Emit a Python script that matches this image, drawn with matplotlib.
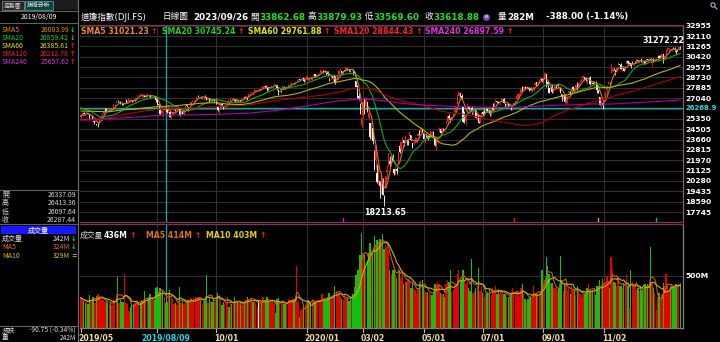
import matplotlib.pyplot as plt
from matplotlib.patches import Rectangle
import numpy as np
import pandas as pd

W, H = 720, 342
plt.rcParams['font.family'] = ['DejaVu Sans', 'Noto Sans CJK TC']
NARROW = ['Liberation Sans Narrow', 'Noto Sans CJK TC', 'DejaVu Sans']

# ---------------- daily bars, DJI 2019/05/15 .. 2021/01/21 ----------------
# closes just before the first bar, only used to warm up SMA5 / SMA20
pre_close = [26450, 26559, 26511, 26656, 26597, 26462, 26543, 26554, 26593, 26430,
             26308, 26505, 26438, 25965, 25968, 25828, 25942, 25324, 25532]

op = [
    # 2019/05
    25480, 25664, 25784, 25679, 25740, 25841, 25644, 25562, 25600, 25214, 25156, 24910,
    # 2019/06
    24823, 24960, 25438, 25523, 25757, 26097, 26150, 26019, 26048, 26060, 26111, 26214, 26471, 26650, 26757, 26720, 26745, 26597, 26578, 26573,
    # 2019/07
    26919, 26731, 26845, 26835, 26875, 26720, 26900, 26919, 27114, 27357, 27328, 27311, 27173, 27276, 27172, 27206, 27304, 27257, 27179, 27196, 27126, 27218,
    # 2019/08
    26885, 26527, 26098, 25900, 25844, 26080, 26337, 26178, 25881, 25930, 25556, 25700, 26110, 26059, 26087, 26237, 26186, 25766, 26014, 25724, 26184, 26445,
    # 2019/09
    26279, 26240, 26531, 26752, 26802, 26792, 26949, 27214, 27221, 27146, 27071, 27103, 27140, 27111, 26885, 27036, 26786, 26980, 26935, 26852,
    # 2019/10
    26963, 26425, 26039, 26269, 26523, 26370, 26289, 26294, 26630, 26775, 26836, 26983, 27070, 26968, 26826, 26888, 26765, 26861, 26807, 27014, 27089, 27077, 27159,
    # 2019/11
    27130, 27425, 27485, 27465, 27547, 27628, 27631, 27682, 27640, 27765, 27843, 27978, 28060, 27862, 27814, 27818, 27926, 28091, 28146, 28124,
    # 2019/12
    28109, 27671, 27575, 27708, 27823, 27985, 27900, 27867, 27923, 28123, 28191, 28240, 28279, 28252, 28451, 28491, 28572, 28539, 28676, 28654, 28414,
    # 2020/01
    28639, 28553, 28465, 28639, 28556, 28852, 28986, 28831, 28885, 28940, 29131, 29313, 29284, 29263, 29160, 29193, 28554, 28663, 28820, 28564, 28813,
    # 2020/02
    28320, 28555, 29004, 29309, 29287, 29075, 29331, 29375, 29440, 29420, 29279, 29339, 29306, 29155, 28402, 28026, 27184, 26526, 24862,
    # 2020/03
    25590, 26762, 26384, 26700, 25458, 24992, 24454, 24604, 22184, 21974, 20918, 20477, 20251, 19734, 20253, 19028, 19722, 21050, 21469, 21899, 21679, 22208,
    # 2020/04
    21228, 20819, 21285, 21694, 23137, 22866, 23572, 23584, 23703, 23633, 23570, 23946, 24009, 23341, 23338, 23459, 23532, 23943, 24337, 24282, 24494,
    # 2020/05
    24120, 23536, 23956, 23980, 23987, 24067, 24187, 24299, 23710, 23049, 23433, 24249, 24562, 24399, 24555, 24385, 24974, 25105, 25604, 25393,
    # 2020/06
    25343, 25587, 25902, 26246, 26554, 27233, 27447, 27251, 26283, 25659, 25178, 26265, 26371, 25975, 26252, 25865, 26140, 26062, 25433, 25624, 25080, 25508,
    # 2020/07
    25879, 25986, 26025, 26165, 25962, 26086, 25655, 26198, 25934, 26861, 26788, 26765, 26639, 26801, 26818, 27001, 26568, 26499, 26570, 26416, 26327, 26343,
    # 2020/08
    26473, 26588, 26964, 27160, 27364, 27473, 27944, 27790, 27928, 27826, 27947, 27857, 27785, 27582, 27735, 28087, 28330, 28258, 28383, 28540, 28644,
    # 2020/09
    28440, 28672, 29037, 28343, 27846, 27678, 28058, 27633, 27887, 28062, 28094, 27750, 27861, 27400, 27214, 27297, 26660, 26835, 27449, 27578, 27512,
    # 2020/10
    27941, 27536, 27766, 28175, 27952, 28398, 28472, 28655, 28792, 28720, 28220, 28593, 28692, 28298, 28301, 28186, 28376, 28165, 27735, 27155, 26490, 26634,
    # 2020/11
    26691, 27084, 27665, 28155, 28325, 29102, 29224, 29450, 29355, 29194, 29715, 29832, 29774, 29312, 29468, 29356, 29812, 30067, 29943, 29896,
    # 2020/12
    29875, 29815, 29989, 29984, 30138, 30000, 30176, 29896, 29907, 30088, 30000, 30220, 30270, 30276, 29926, 30255, 30065, 30155, 30283, 30492, 30415, 30417,
    # 2021/01
    30627, 30204, 30384, 30909, 31069, 30998, 31041, 31081, 31068, 30926, 30945, 31026, 31210,
]

hi = [
    25693, 25939, 25918, 25739, 25914, 25861, 25644, 25694, 25650, 25240, 25286, 24965,
    25019, 25348, 25558, 25741, 26058, 26204, 26250, 26055, 26146, 26133, 26200, 26572, 26560, 26907, 26851, 26778, 26769, 26667, 26614, 26635,
    26956, 26793, 26966, 26960, 26880, 26800, 26980, 27089, 27333, 27398, 27359, 27335, 27224, 27281, 27198, 27351, 27319, 27275, 27237, 27222, 27226, 27247,
    27142, 26558, 26115, 26058, 26048, 26379, 26413, 26223, 26487, 25988, 25665, 25952, 26227, 26119, 26218, 26312, 26209, 25904, 26029, 26040, 26377, 26491,
    26279, 26398, 26741, 26800, 26911, 26909, 27137, 27306, 27248, 27148, 27112, 27150, 27272, 27140, 27000, 27080, 27006, 26993, 27006, 26998,
    27047, 26425, 26211, 26590, 26611, 26372, 26377, 26574, 26958, 26833, 27074, 27057, 27093, 26991, 26868, 26902, 26834, 26881, 26995, 27130, 27150, 27208, 27167,
    27348, 27517, 27575, 27514, 27775, 27682, 27694, 27799, 27804, 27804, 28005, 28058, 28090, 27908, 27849, 27900, 28068, 28124, 28174, 28133,
    28109, 27671, 27707, 27708, 28044, 28021, 27949, 27924, 28224, 28290, 28337, 28290, 28298, 28377, 28582, 28582, 28576, 28622, 28702, 28664, 28547,
    28873, 28716, 28708, 28686, 28866, 28956, 29009, 28907, 29007, 29126, 29298, 29373, 29330, 29374, 29177, 29242, 28648, 28791, 28893, 28860, 28813,
    28569, 28866, 29308, 29380, 29287, 29277, 29415, 29568, 29527, 29441, 29337, 29410, 29408, 29155, 28402, 28117, 27444, 26675, 25409,
    26707, 27084, 27102, 26700, 25994, 24992, 25020, 24604, 22837, 23190, 21689, 21592, 20254, 20811, 20532, 19121, 20710, 21565, 22596, 22328, 22378, 22489,
    21286, 21451, 21447, 22680, 23328, 23434, 23848, 23633, 24030, 23633, 23626, 24264, 24009, 23346, 23579, 23887, 23789, 24185, 24445, 24722, 24524,
    24120, 23784, 24148, 24001, 24007, 24338, 24363, 24342, 23873, 23625, 23705, 24658, 24579, 24621, 24619, 24465, 25152, 25548, 25758, 25436,
    25516, 25742, 26270, 26374, 27339, 27580, 27447, 27354, 26283, 26019, 25828, 26610, 26421, 26150, 26398, 26069, 26293, 26062, 25759, 25624, 25600, 25901,
    26009, 26204, 26315, 26215, 26074, 26093, 26078, 26611, 26647, 26970, 26813, 26782, 26764, 27027, 27006, 27066, 26632, 26604, 26619, 26611, 26385, 26431,
    26692, 26835, 27214, 27394, 27434, 27807, 28030, 28015, 27992, 27948, 27965, 27886, 27911, 27754, 27957, 28364, 28330, 28344, 28565, 28660, 28650,
    28659, 29200, 29037, 28478, 27874, 28041, 28193, 27818, 28106, 28121, 28287, 27978, 27892, 27400, 27337, 27374, 27016, 27210, 27609, 27610, 27962,
    27999, 27831, 28163, 28354, 28353, 28470, 28607, 28958, 28800, 28804, 28528, 28832, 28808, 28543, 28438, 28408, 28408, 28167, 27735, 27155, 26978, 26685,
    27114, 27602, 28075, 28465, 28383, 29934, 29581, 29510, 29355, 29489, 29965, 29862, 29881, 29507, 29521, 29632, 30117, 30068, 30000, 29905,
    30081, 29900, 30099, 30219, 30173, 30192, 30319, 30012, 30061, 30195, 30203, 30252, 30328, 30293, 30222, 30278, 30248, 30209, 30526, 30588, 30525, 30638,
    30674, 30505, 31023, 31194, 31140, 31040, 31148, 31181, 31223, 30946, 31066, 31263, 31272,
]

lo = [
    25402, 25664, 25706, 25580, 25740, 25723, 25328, 25551, 25339, 24938, 25104, 24811,
    24680, 24960, 25374, 25433, 25720, 26015, 25998, 25951, 26048, 25990, 26098, 26159, 26388, 26650, 26710, 26679, 26525, 26502, 26503, 26545,
    26654, 26669, 26845, 26715, 26765, 26705, 26818, 26919, 27099, 27298, 27278, 27218, 27084, 27150, 27100, 27159, 27210, 27090, 27131, 27125, 27080, 26730,
    26512, 26250, 25718, 25703, 25480, 26035, 26098, 25844, 25827, 25473, 25339, 25700, 26110, 25951, 26076, 26111, 25606, 25722, 25741, 25675, 26184, 26302,
    25978, 26240, 26531, 26736, 26755, 26729, 26927, 27120, 27180, 27038, 27000, 26923, 27088, 26910, 26850, 26700, 26740, 26810, 26705, 26852,
    26566, 25974, 25744, 26269, 26440, 26160, 26258, 26234, 26630, 26736, 26836, 26964, 26991, 26713, 26780, 26778, 26727, 26741, 26796, 27014, 27045, 26994, 26923,
    27130, 27412, 27460, 27407, 27547, 27574, 27600, 27646, 27625, 27706, 27843, 27943, 27889, 27662, 27720, 27796, 27926, 28051, 28113, 28037,
    27739, 27325, 27575, 27570, 27823, 27906, 27825, 27839, 27860, 28004, 28191, 28206, 28234, 28224, 28425, 28491, 28503, 28535, 28609, 28386, 28376,
    28627, 28500, 28418, 28565, 28502, 28818, 28802, 28775, 28883, 28912, 29131, 29263, 29126, 29171, 28904, 28843, 28441, 28615, 28700, 28441, 28170,
    28320, 28555, 29004, 29236, 29052, 29010, 29246, 29375, 29351, 29263, 29146, 29311, 28963, 28862, 27921, 27049, 26897, 25766, 24681,
    25391, 25706, 26287, 25943, 25226, 23706, 23690, 23328, 21154, 21286, 20116, 19932, 18917, 19177, 19122, 18214, 19722, 20399, 21469, 21469, 21522, 21878,
    20736, 20735, 20863, 21694, 22600, 22783, 23398, 23130, 23589, 23214, 23243, 23946, 23613, 22941, 23276, 23404, 23403, 23943, 24060, 24282, 24199,
    23645, 23394, 23846, 23655, 23825, 24067, 24084, 23764, 23121, 22790, 23414, 24249, 24192, 24399, 24355, 24262, 24933, 24956, 25371, 25118,
    25265, 25501, 25902, 26124, 26554, 27176, 27145, 26965, 25082, 25011, 24844, 25916, 26048, 25865, 25781, 25690, 26037, 25379, 25225, 24972, 24971, 25501,
    25697, 25808, 26025, 25875, 25860, 25564, 25580, 26066, 25876, 26697, 26605, 26608, 26494, 26801, 26797, 26614, 26314, 26402, 26353, 26416, 26094, 26058,
    26473, 26518, 26964, 27073, 27164, 27398, 27630, 27790, 27822, 27804, 27777, 27653, 27668, 27539, 27657, 28087, 28050, 28147, 28255, 28493, 28350,
    28291, 28672, 27953, 27665, 27474, 27678, 27462, 27461, 27887, 27850, 28008, 27623, 27477, 26829, 27000, 26742, 26537, 26639, 27364, 27362, 27512,
    27642, 27470, 27766, 27713, 27952, 28352, 28449, 28632, 28555, 28423, 28164, 28570, 28102, 28218, 28178, 28038, 28136, 27492, 27431, 26512, 26353, 26143,
    26611, 27084, 27395, 28155, 28032, 29102, 29160, 29339, 28962, 29187, 29715, 29633, 29437, 29149, 29245, 29356, 29812, 29824, 29868, 29469,
    29788, 29633, 29922, 29960, 30012, 29944, 29983, 29857, 29717, 29862, 29971, 30055, 30205, 30016, 29666, 30010, 30064, 30121, 30283, 30303, 30392, 30335,
    29882, 30195, 30384, 30909, 30813, 30923, 30888, 31046, 30969, 30634, 30886, 31026, 31093,
]

cl = [
    25648, 25863, 25764, 25680, 25877, 25776, 25490, 25586, 25348, 25127, 25170, 24815,
    24820, 25332, 25540, 25720, 25984, 26062, 26049, 26005, 26107, 26090, 26112, 26466, 26504, 26753, 26720, 26727, 26548, 26537, 26526, 26600,
    26717, 26787, 26966, 26922, 26806, 26784, 26860, 27088, 27332, 27359, 27336, 27220, 27223, 27154, 27172, 27350, 27270, 27140, 27192, 27222, 27199, 26864,
    26583, 26485, 25718, 26030, 26008, 26379, 26287, 25897, 26280, 25479, 25579, 25886, 26136, 25962, 26202, 26252, 25628, 25899, 25778, 26036, 26362, 26403,
    26118, 26355, 26728, 26797, 26835, 26909, 27137, 27182, 27220, 27076, 27111, 27147, 27094, 26935, 26949, 26807, 26970, 26891, 26820, 26917,
    26573, 26079, 26201, 26573, 26478, 26165, 26347, 26497, 26817, 26787, 27025, 27002, 27026, 26770, 26828, 26788, 26834, 26806, 26958, 27091, 27071, 27186, 27046,
    27347, 27462, 27493, 27492, 27675, 27681, 27691, 27691, 27784, 27782, 28005, 28036, 27934, 27821, 27767, 27876, 28066, 28122, 28164, 28051,
    27783, 27503, 27650, 27677, 28015, 27910, 27882, 27911, 28132, 28135, 28236, 28268, 28240, 28377, 28455, 28551, 28515, 28621, 28645, 28462, 28538,
    28868, 28634, 28703, 28584, 28745, 28956, 28824, 28907, 28940, 29030, 29298, 29348, 29196, 29186, 29160, 28990, 28536, 28723, 28734, 28859, 28256,
    28400, 28808, 29291, 29380, 29103, 29276, 29277, 29551, 29424, 29398, 29232, 29348, 29220, 28992, 27961, 27081, 26957, 25767, 25409,
    26703, 25917, 27091, 26121, 25865, 23851, 25018, 23553, 21200, 23186, 20189, 21237, 19899, 20087, 19174, 18592, 20705, 21201, 22552, 21637, 22327, 21917,
    20944, 21413, 21053, 22680, 22654, 23434, 23719, 23391, 23950, 23505, 23538, 24242, 23650, 23019, 23475, 23516, 23775, 24134, 24102, 24634, 24346,
    23724, 23750, 23883, 23665, 23876, 24331, 24222, 23765, 23248, 23625, 23685, 24597, 24207, 24576, 24474, 24465, 24995, 25548, 25401, 25383,
    25475, 25742, 26270, 26282, 27111, 27572, 27272, 26990, 25128, 25606, 25763, 26290, 26120, 26080, 25871, 26025, 26156, 25446, 25746, 25016, 25596, 25813,
    25735, 25827, 26287, 25890, 26067, 25706, 26075, 26086, 26643, 26870, 26735, 26672, 26681, 26840, 27006, 26652, 26470, 26585, 26380, 26540, 26314, 26428,
    26665, 26828, 27202, 27387, 27433, 27791, 27687, 27977, 27897, 27931, 27845, 27779, 27693, 27740, 27930, 28308, 28249, 28332, 28492, 28654, 28430,
    28646, 29100, 28292, 28133, 27501, 27940, 27535, 27666, 27993, 27996, 28032, 27902, 27657, 27148, 27288, 26763, 26815, 27174, 27584, 27452, 27782,
    27817, 27683, 28149, 27773, 28303, 28426, 28587, 28838, 28680, 28514, 28494, 28606, 28195, 28309, 28211, 28364, 28336, 27685, 27463, 26520, 26659, 26502,
    26925, 27481, 27848, 28390, 28323, 29158, 29421, 29398, 29080, 29480, 29950, 29784, 29438, 29483, 29263, 29591, 30046, 29873, 29910, 29639,
    29824, 29884, 29970, 30218, 30070, 30174, 30068, 29999, 30047, 29862, 30200, 30155, 30304, 30180, 30216, 30016, 30130, 30200, 30404, 30336, 30410, 30606,
    30224, 30392, 30829, 31041, 31098, 31009, 31068, 31061, 30992, 30814, 30930, 31188, 31176,
]

# volume, millions
vol = [
    290, 270, 260, 240, 250, 230, 320, 250, 300, 300, 240, 310,
    330, 310, 280, 270, 270, 250, 260, 240, 230, 240, 220, 280, 260, 330, 490, 240, 270, 250, 250, 520,
    240, 230, 160, 200, 220, 230, 240, 260, 250, 240, 250, 270, 260, 360, 260, 280, 300, 330, 270, 280, 270, 380,
    390, 350, 380, 340, 360, 298, 242, 250, 330, 370, 330, 280, 230, 240, 220, 240, 390, 240, 260, 230, 250, 240,
    270, 240, 290, 250, 290, 300, 290, 300, 290, 270, 230, 270, 260, 510, 240, 300, 260, 250, 270, 250,
    300, 340, 320, 260, 220, 250, 230, 240, 300, 200, 260, 230, 240, 300, 250, 260, 240, 240, 220, 240, 250, 270, 300,
    280, 290, 280, 250, 280, 240, 200, 260, 250, 240, 300, 260, 260, 300, 260, 250, 260, 270, 230, 140,
    280, 290, 260, 230, 250, 230, 230, 240, 280, 270, 270, 280, 270, 290, 600, 250, 110, 170, 190, 220, 220,
    250, 270, 250, 240, 280, 270, 250, 240, 260, 270, 270, 330, 270, 270, 270, 300, 340, 290, 300, 330, 400,
    360, 330, 340, 300, 280, 270, 320, 290, 290, 260, 300, 270, 330, 390, 510, 560, 560, 700, 910,
    720, 700, 600, 640, 720, 820, 760, 720, 880, 800, 850, 830, 860, 820, 900, 760, 800, 780, 740, 560, 520, 560,
    560, 520, 480, 580, 560, 480, 560, 420, 440, 440, 460, 480, 380, 440, 380, 370, 330, 380, 440, 450, 460,
    390, 350, 350, 350, 340, 320, 320, 360, 420, 420, 440, 420, 340, 330, 330, 300, 420, 460, 440, 560,
    350, 370, 400, 420, 520, 560, 450, 460, 560, 460, 420, 480, 380, 360, 660, 340, 360, 380, 400, 580, 360, 400,
    340, 300, 330, 340, 330, 380, 320, 380, 360, 400, 330, 370, 330, 360, 340, 330, 330, 300, 300, 320, 340, 380,
    350, 320, 360, 340, 300, 380, 420, 330, 280, 260, 280, 300, 310, 280, 400, 340, 330, 350, 330, 330, 560,
    430, 460, 680, 600, 520, 430, 430, 380, 380, 380, 360, 380, 690, 460, 360, 430, 420, 360, 380, 330, 400,
    370, 370, 320, 400, 360, 330, 290, 330, 330, 350, 380, 420, 360, 360, 370, 380, 320, 400, 400, 460, 390, 470,
    420, 420, 500, 440, 380, 680, 560, 440, 430, 400, 500, 400, 400, 380, 430, 420, 520, 400, 190, 560,
    440, 400, 400, 370, 380, 360, 400, 370, 380, 420, 400, 420, 400, 780, 440, 380, 340, 170, 300, 340, 280, 330,
    430, 400, 520, 400, 360, 400, 420, 380, 390, 420, 400, 424, 436,
]

# long SMAs before their window is available in the bars above
sma60_head_i = [0, 10, 20, 30, 39]
sma60_head_v = [25990, 25960, 25930, 26090, 26140]
sma120_head_i = [0, 15, 30, 45, 60, 80, 99]
sma120_head_v = [25220, 25300, 25710, 25990, 26213, 26233, 26380]
sma240_head_i = [0, 30, 60, 80, 100, 120, 140, 160, 180, 200, 219]
sma240_head_v = [25290, 25430, 25658, 25680, 25730, 25830, 26050, 26400, 26780, 27000, 26780]

# axis
price_grid = [32955, 32110, 31265, 30420, 29575, 28730, 27885, 27040, 26195, 25350,
              24505, 23660, 22815, 21970, 21125, 20280, 19435, 18590, 17745]
month_idx = [0, 54, 96, 160, 200, 243, 285, 328, 371]
month_lbl = ['2019/05', '', '10/01', '2020/01', '03/02', '05/01', '07/01', '09/01', '11/02']
event_idx = [186, 307, 367, 408]
event_col = ['#d020d0', '#e02020', '#d0b020', '#20c020']

# cursor (2019/08/09)
cur_idx = 60
cur_date = '2019/08/09'
cur_price = 26268.9

sma_names = ['SMA5', 'SMA20', 'SMA60', 'SMA120', 'SMA240']
sma_last = ['31021.23', '30745.24', '29761.88', '28844.43', '26897.59']
sma_cur = ['26083.99', '26859.42', '26385.81', '26212.78', '25657.62']
sma_cur_up = [False, False, True, True, True]
ohlc_names = ['開', '高', '低', '收']
ohlc_cur = ['26337.09', '26413.36', '26097.64', '26287.44']

txt_col = ['#f08a24', '#22d022', '#e6e600', '#ff2020', '#e030e0']
line_col = ['#d2781e', '#18a818', '#b4b400', '#b00000', '#b000b0']

assert len(op) == len(hi) == len(lo) == len(cl) == len(vol), (len(op), len(hi), len(lo), len(cl), len(vol))

N = len(cl)
x = np.arange(N)
o, h, l, c = (np.array(a, dtype=float) for a in (op, hi, lo, cl))
v = np.array(vol, dtype=float)

full = pd.Series(pre_close + cl, dtype=float)


def sma(n):
    return full.rolling(n).mean().to_numpy()[len(pre_close):]


def sma_line(n, head_i=None, head_v=None):
    s = sma(n)
    ok = ~np.isnan(s)
    xs, ys = list(x[ok]), list(s[ok])
    if head_i is not None:
        xs, ys = list(head_i) + xs, list(head_v) + ys
    return xs, ys


fig = plt.figure(figsize=(W / 100, H / 100), dpi=100, facecolor='black')


def box(x0, y0, x1, y1):
    return [x0 / W, 1 - y1 / H, (x1 - x0) / W, (y1 - y0) / H]


ax = fig.add_axes(box(80, 25, 683, 222))
axv = fig.add_axes(box(80, 224, 683, 328))
for a in (ax, axv):
    a.set_facecolor('black')
    a.set_xlim(-0.7, 427)
    a.set_xticks([])
    for t in month_idx[1:]:
        a.axvline(t, color='#303030', lw=0.8, zorder=0)
    a.axvline(cur_idx, color='#10a8a8', lw=0.9, zorder=1)
    for sp in a.spines.values():
        sp.set_color('#7a3658')
        sp.set_linewidth(0.9)
    a.spines['left'].set_visible(False)

# ---- price panel ----
ax.set_ylim(16929, 33012)
for p in price_grid:
    ax.axhline(p, color='#303030', lw=0.8, zorder=0)
ax.axhline(cur_price, color='#10a8a8', lw=1.0, zorder=1)

ccol = np.where(c > o, '#ff1a1a', '#f4f4f4')
ax.vlines(x, l, h, colors=ccol, lw=0.6, zorder=3)
ax.bar(x, np.maximum(np.abs(c - o), 25), bottom=np.minimum(o, c), width=0.8,
       color=ccol, lw=0, zorder=3, antialiased=False)

heads = {60: (sma60_head_i, sma60_head_v), 120: (sma120_head_i, sma120_head_v),
         240: (sma240_head_i, sma240_head_v)}
for n, col in zip([5, 20, 60, 120, 240], line_col):
    hd = heads.get(n, (None, None))
    xs, ys = sma_line(n, *hd)
    ax.plot(xs, ys, color=col, lw=0.8, zorder=4)

ticks = [cur_price if p == 26195 else p for p in price_grid]
labels = ['26268.9' if p == 26195 else str(p) for p in price_grid]
ax.yaxis.tick_right()
ax.set_yticks(ticks)
ax.set_yticklabels(labels)
ax.tick_params(axis='y', length=0, pad=1.5, labelsize=5.4, labelcolor='white')
for t in ax.get_yticklabels():
    t.set_fontweight('bold')
    if t.get_text() == '26268.9':
        t.set_color('#20e0e0')
        t.set_fontsize(5.0)

imax, imin = int(np.argmax(h)), int(np.argmin(l))
ax.annotate('31272.22', (imax, h[imax]), xytext=(3, 1), textcoords='offset points',
            ha='right', va='bottom', color='white', fontsize=5.8, fontweight='bold')
ax.annotate('18213.65', (imin, l[imin]), xytext=(1, -1), textcoords='offset points',
            ha='center', va='top', color='white', fontsize=5.8, fontweight='bold')

for i, col in zip(event_idx, event_col):
    ax.plot([i, i], [0, 0.02], color=col, lw=1, transform=ax.get_xaxis_transform(), zorder=5)

# ---- volume panel ----
axv.set_ylim(0, 1000)
axv.axhline(500, color='#303030', lw=0.8, zorder=0)
prev = np.r_[pre_close[-1], c[:-1]]
vcol = np.where(c > prev, '#e80000', np.where(c < prev, '#10c010', '#ffffff'))
axv.bar(x, v, width=0.92, color=vcol, lw=0, zorder=2, antialiased=False)
vs = pd.Series(v)
axv.plot(x, vs.rolling(5, min_periods=1).mean(), color='#c0601a', lw=0.8, zorder=3)
axv.plot(x, vs.rolling(10, min_periods=1).mean(), color='#c8b400', lw=0.8, zorder=3)
axv.yaxis.tick_right()
axv.set_yticks([500])
axv.set_yticklabels(['500M'])
axv.tick_params(axis='y', length=0, pad=1.5, labelsize=5.4, labelcolor='white')
for t in axv.get_yticklabels():
    t.set_fontweight('bold')
axv.spines['bottom'].set_color('#808080')
axv.spines['right'].set_color('#808080')
ax.spines['right'].set_color('#806070')

for i, s in zip(month_idx, month_lbl):
    axv.plot([i, i], [-0.035, 0], color='#c8b888', lw=0.8, clip_on=False,
             transform=axv.get_xaxis_transform())
    if s:
        axv.text(i - 1.5, -0.05, s, transform=axv.get_xaxis_transform(), ha='left', va='top',
                 color='#f0dca0', fontsize=5.6, fontweight='bold')
axv.text(cur_idx, -0.05, cur_date, transform=axv.get_xaxis_transform(), ha='center', va='top',
         color='#20d8e8', fontsize=5.6, fontweight='bold')

# ---- pixel overlay for headers and left panel ----
ov = fig.add_axes([0, 0, 1, 1], zorder=10)
ov.set_xlim(0, W)
ov.set_ylim(H, 0)
ov.axis('off')
rend = fig.canvas.get_renderer()


def put(x0, y, s, color, size, after=None, after_col=None, gap=2, **kw):
    t = ov.text(x0, y, s, color=color, fontsize=size, va='center', ha='left', **kw)
    if after:
        bb = t.get_window_extent(rend)
        ov.text(bb.x1 + gap, y, after, color=after_col, fontsize=size, va='center',
                ha='left', fontweight='bold')
    return t


# title row
put(81, 17, '道瓊指數(DJI.FS)', 'white', 6.2)
put(162, 17, '日線圖', 'white', 6.2)
put(193, 17, '2023/09/26', 'white', 6.3, fontweight='bold')
put(250, 17, '開', 'white', 6.2)
put(259, 17, '33862.68', '#22e022', 6.3, fontweight='bold')
put(307, 17, '高', 'white', 6.2)
put(316, 17, '33879.93', '#22e022', 6.3, fontweight='bold')
put(365, 17, '低', 'white', 6.2)
put(373, 17, '33569.60', '#22e022', 6.3, fontweight='bold')
put(424, 17, '收', 'white', 6.2)
put(433, 17, '33618.88', '#22e022', 6.3, fontweight='bold')
ov.scatter([486], [17], s=16, color='#7050b0', zorder=11)
ov.text(486, 17, 'e', color='white', fontsize=4, ha='center', va='center', zorder=12)
put(498, 17, '量', 'white', 6.2)
put(507, 17, '282M', 'white', 6.3, fontweight='bold')
put(546, 17, '-388.00 (-1.14%)', 'white', 6.3, fontweight='bold')
ov.scatter([713], [5], s=9, facecolors='none', edgecolors='#a8b8e0', lw=0.8)
ov.plot([715, 717], [7, 9], color='#a8b8e0', lw=0.8)

# SMA legend inside the price panel
for x0, name, val, col in zip([81, 162, 248, 334, 425], sma_names, sma_last, txt_col):
    put(x0, 31, f'{name} {val}', col, 5.6, after='↑', after_col='#ff2020', fontweight='bold')

# volume legend
put(80, 235, '成交量', '#d8d8d8', 5.6)
put(104, 235, '436M', 'white', 5.6, after='↑', after_col='#ff2020', fontweight='bold')
put(146, 235, 'MA5 414M', '#e07020', 5.6, after='↑', after_col='#ff2020', fontweight='bold')
put(206, 235, 'MA10 403M', '#e0d000', 5.6, after='↑', after_col='#ff2020', fontweight='bold')

# left panel frame
ov.plot([77.5, 77.5], [0, H], color='#707070', lw=0.8)
for yy in (10.5, 23, 190, 224, 326):
    ov.plot([0, 77.5], [yy, yy], color='#606060', lw=0.8)
ov.add_patch(Rectangle((0, 0), 77.5, 10, color='#1c1c1c', lw=0))
ov.add_patch(Rectangle((2, 1), 22, 9, facecolor='#2a2a2a', edgecolor='#808080', lw=0.6))
ov.add_patch(Rectangle((25, 1), 28, 9, facecolor='#0e4040', edgecolor='#40a0a0', lw=0.6))
ov.text(13, 5.5, '走勢圖', color='#e0e0e0', fontsize=4.2, ha='center', va='center')
ov.text(39, 5.5, '技術分析', color='#ffffff', fontsize=4.2, ha='center', va='center')
ov.text(39, 17, cur_date, color='white', fontsize=5, ha='center', va='center', family=NARROW)

for k, (name, val, up, col) in enumerate(zip(sma_names, sma_cur, sma_cur_up, txt_col)):
    yy = 30 + 8 * k
    ov.text(2, yy, name, color=col, fontsize=5, va='center', family=NARROW)
    ov.text(69, yy, val, color=col, fontsize=5, va='center', ha='right', family=NARROW)
    ov.text(70, yy, '↑' if up else '↓', color='#ff2020' if up else '#20e020', fontsize=4.8,
            va='center', fontweight='bold')

for k, (name, val) in enumerate(zip(ohlc_names, ohlc_cur)):
    yy = 195 + 8.3 * k
    ov.text(2, yy, name, color='#d8d8d8', fontsize=5, va='center', family=NARROW)
    ov.text(76, yy, val, color='#d8d8d8', fontsize=5, va='center', ha='right', family=NARROW)

ov.add_patch(Rectangle((1, 226), 75, 8, color='#1818ff', lw=0))
ov.text(38.5, 230, '成交量', color='white', fontsize=5, ha='center', va='center')
vol_rows = [('成交量', '242M', '#e0e0e0', '↓', '#20e020'),
            ('MA5', '324M', '#e07020', '↓', '#20e020'),
            ('MA10', '329M', '#d8c800', '=', '#a0a0a0')]
for k, (name, val, col, mk, mcol) in enumerate(vol_rows):
    yy = 239 + 8.3 * k
    ov.text(2, yy, name, color=col, fontsize=5, va='center', family=NARROW)
    ov.text(70, yy, val, color=col, fontsize=5, va='center', ha='right', family=NARROW)
    ov.text(71, yy, mk, color=mcol, fontsize=4.8, va='center', fontweight='bold')

ov.text(2, 330.5, '漲跌', color='#d8d8d8', fontsize=4.8, va='center', family=NARROW)
ov.text(76, 330.5, '-90.75 (-0.34%)', color='#d8d8d8', fontsize=4.8, va='center', ha='right', family=NARROW)
ov.text(2, 337.5, '量', color='#d8d8d8', fontsize=4.8, va='center', family=NARROW)
ov.text(76, 337.5, '242M', color='#d8d8d8', fontsize=4.8, va='center', ha='right', family=NARROW)

fig.savefig('out.png', dpi=100, facecolor='black')
